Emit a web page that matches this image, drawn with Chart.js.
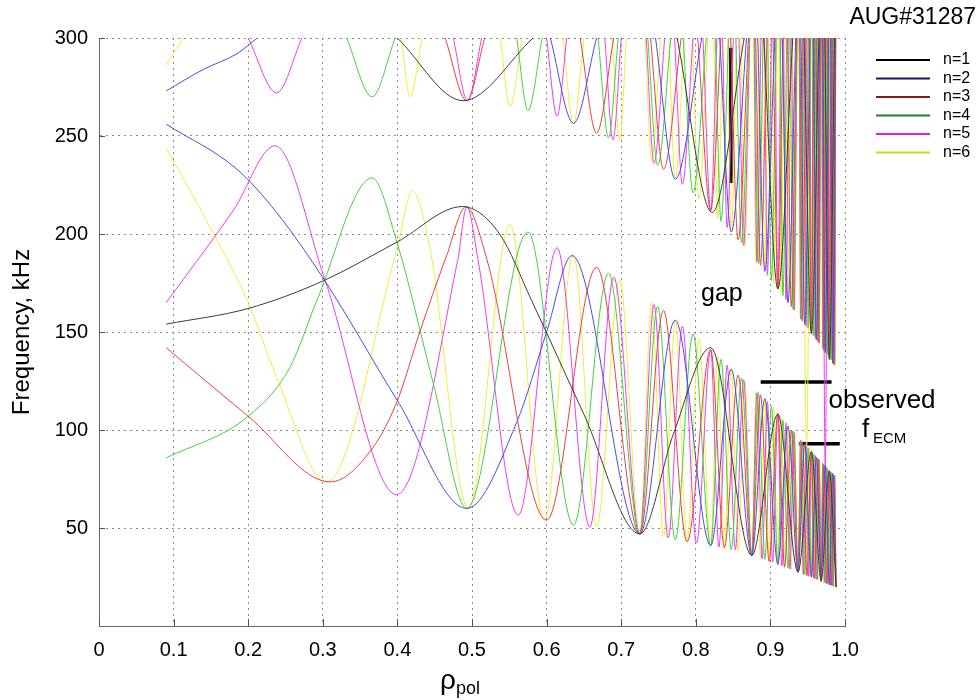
<!DOCTYPE html>
<html>
<head>
<meta charset="utf-8">
<title>AUG#31287 continuum</title>
<script src="https://cdn.jsdelivr.net/npm/chart.js@4.4.1/dist/chart.umd.min.js"></script>
<style>
  html, body { margin: 0; padding: 0; background: #fff; }
  canvas { display: block; }
</style>
</head>
<body>
<canvas id="continuumChart" width="978" height="700"></canvas>
<script>
// toroidal mode numbers shown in the legend
const modeLabels = ['n=1', 'n=2', 'n=3', 'n=4', 'n=5', 'n=6'];
const xTicks = [0, 0.1, 0.2, 0.3, 0.4, 0.5, 0.6, 0.7, 0.8, 0.9, 1.0];
const yTicks = [50, 100, 150, 200, 250, 300];

// lower continuum branches [rho_pol, kHz]
const n1Low = [[0.09,154],[0.2,162],[0.3,176],[0.4,196],[0.487,214],[0.537,200],[0.58,166],[0.65,108],[0.725,47],[0.77,98],[0.82,142],[0.875,36],[0.91,108],[0.937,27.5],[0.955,89],[0.968,23],[0.979,79],[0.988,20]];
const n2Low = [[0.09,256],[0.185,233],[0.238,211],[0.303,176],[0.4,115],[0.493,60],[0.56,104],[0.6,150],[0.634,189],[0.725,47],[0.7725,156],[0.82,41],[0.8475,131],[0.875,36],[0.8925,116],[0.91,31.5],[0.9235,102],[0.937,27.5],[0.946,93],[0.955,25],[0.9615,86],[0.968,23],[0.9735,82],[0.979,21],[0.9835,78],[0.988,20]];
const n3Low = [[0.09,142],[0.2,107],[0.31,73.5],[0.367,91],[0.4,115],[0.43,150],[0.466,189],[0.492,214],[0.52,187],[0.6,54],[0.667,183],[0.725,47],[0.7567,161],[0.7883,43],[0.82,141],[0.8383,40],[0.8567,128],[0.875,36],[0.8867,118],[0.8983,33],[0.91,108.5],[0.919,30],[0.928,100],[0.937,27.5],[0.943,94],[0.949,25.7],[0.955,89],[0.9593,24],[0.9637,85.5],[0.968,22.8],[0.9717,82],[0.9753,21.7],[0.979,79.4],[0.982,20.7],[0.985,77],[0.988,19.8]];
const n4Low = [[0.09,85.7],[0.2,107],[0.256,132],[0.292,166],[0.366,228.6],[0.4,195],[0.448,124],[0.493,60],[0.575,201],[0.636,51.5],[0.683,180],[0.725,47],[0.7488,163],[0.7725,44],[0.7963,149],[0.82,41],[0.8338,136],[0.8475,39],[0.8613,126.5],[0.875,36],[0.8838,119],[0.8925,34],[0.9013,112],[0.91,31.5],[0.9168,105],[0.9235,29.5],[0.9303,99.6],[0.937,27.5],[0.9415,94],[0.946,26],[0.9505,91],[0.955,24.8],[0.9583,87.7],[0.9615,23.8],[0.9648,85],[0.968,22.8],[0.9708,82.7],[0.9735,22],[0.9763,80.5],[0.979,21.2],[0.9813,78.5],[0.9835,20.5],[0.9858,76.7],[0.988,19.8]];
const n5Low = [[0.09,165],[0.18,212],[0.236,245],[0.303,176.5],[0.399,67],[0.481,187],[0.493,214],[0.508,187],[0.562,56.6],[0.614,193],[0.658,50.5],[0.69,178],[0.725,47],[0.744,164],[0.763,45],[0.782,153],[0.801,42.4],[0.82,141],[0.831,40.3],[0.842,133],[0.853,38.8],[0.864,125.6],[0.875,36],[0.882,119],[0.889,34.3],[0.896,114.4],[0.903,32.6],[0.91,108.5],[0.9154,30.7],[0.9208,103.6],[0.9262,29.1],[0.9316,98.8],[0.937,27.5],[0.9406,94.7],[0.9442,26.4],[0.9478,91.9],[0.9514,25.3],[0.955,89],[0.9576,24.6],[0.9602,86.9],[0.9628,23.6],[0.9654,84.8],[0.968,22.8],[0.9702,82.9],[0.9724,22.1],[0.9746,81.2],[0.9768,21.5],[0.979,79.4],[0.9808,20.9],[0.9826,78],[0.9844,20.3],[0.9862,76.5],[0.988,19.8]];
const n6Low = [[0.09,244],[0.153,200.5],[0.2,165],[0.238,127],[0.305,73.5],[0.399,192],[0.42,222],[0.444,192],[0.495,60],[0.551,205],[0.597,54],[0.636,190],[0.667,50.5],[0.698,176.5],[0.725,47],[0.7408,165],[0.7567,45.5],[0.7725,156],[0.7883,43.2],[0.8042,146.5],[0.82,41],[0.8292,137.8],[0.8383,39.8],[0.8475,131.4],[0.8567,38.3],[0.8658,125],[0.875,36],[0.8808,119.7],[0.8867,34.6],[0.8925,115.6],[0.8983,33.2],[0.9042,111],[0.91,31.5],[0.9145,106.5],[0.919,30.2],[0.9235,102.4],[0.928,28.8],[0.9325,98.4],[0.937,27.5],[0.94,95],[0.943,26.6],[0.946,92.6],[0.949,25.7],[0.952,90.2],[0.955,24.8],[0.9572,88.1],[0.9593,24.1],[0.9615,86.4],[0.9637,23.5],[0.9658,84.7],[0.968,22.8],[0.9698,83.2],[0.9717,22.3],[0.9735,81.6],[0.9753,21.7],[0.9772,80.1],[0.979,21.2],[0.9805,78.8],[0.982,20.7],[0.9835,77.6],[0.985,20.3],[0.9865,76.4],[0.988,19.8]];

// upper continuum branches, one list per dip (leaves the frame at 300 kHz)
const n1Up = [
  [[0.40,300],[0.488,268],[0.582,300]],
  [[0.775,300],[0.822,211],[0.865,300]],
  [[0.891,300],[0.91,172],[0.93,300]],
  [[0.945,300],[0.955,149],[0.965,300]],
  [[0.973,300],[0.979,136],[0.986,300]]
];
const n2Up = [
  [[0.09,273],[0.14,284],[0.185,292],[0.212,300]],
  [[0.605,300],[0.636,256.5],[0.667,300]],
  [[0.746,300],[0.7725,228],[0.808,300]],
  [[0.832,300],[0.8475,201],[0.868,300]],
  [[0.883,300],[0.8925,181],[0.906,300]],
  [[0.916,300],[0.9235,165],[0.934,300]],
  [[0.941,300],[0.946,154],[0.953,300]],
  [[0.958,300],[0.9615,146],[0.966,300]],
  [[0.9705,300],[0.9735,139.5],[0.978,300]],
  [[0.981,300],[0.9835,134],[0.987,300]]
];
const n3Up = [
  [[0.464,300],[0.493,268],[0.517,300]],
  [[0.645,300],[0.667,251.5],[0.69,300]],
  [[0.7393,300],[0.7567,233],[0.7804,300]],
  [[0.8026,300],[0.82,212],[0.8337,300]],
  [[0.8466,300],[0.8567,197],[0.8705,300]],
  [[0.8803,300],[0.8867,184],[0.8954,300]],
  [[0.9036,300],[0.91,172],[0.9168,300]],
  [[0.923,300],[0.928,163],[0.9348,300]],
  [[0.9397,300],[0.943,155.5],[0.9475,300]],
  [[0.9517,300],[0.955,149.5],[0.9582,300]],
  [[0.9613,300],[0.9637,145],[0.967,300]],
  [[0.9697,300],[0.9717,140.5],[0.9744,300]],
  [[0.977,300],[0.979,136.5],[0.9813,300]],
  [[0.9834,300],[0.985,133.5],[0.9875,300]]
];
const n4Up = [
  [[0.332,300],[0.366,270],[0.397,300]],
  [[0.56,300],[0.575,263],[0.594,300]],
  [[0.669,300],[0.683,249],[0.696,300]],
  [[0.7357,300],[0.7488,235],[0.7666,300]],
  [[0.7832,300],[0.7963,221],[0.8141,300]],
  [[0.8262,300],[0.8338,206.5],[0.8441,300]],
  [[0.8537,300],[0.8613,195.4],[0.8716,300]],
  [[0.879,300],[0.8838,185],[0.8903,300]],
  [[0.8965,300],[0.9013,176.4],[0.9078,300]],
  [[0.9131,300],[0.9168,168.6],[0.9219,300]],
  [[0.9266,300],[0.9303,161.8],[0.9353,300]],
  [[0.939,300],[0.9415,156.3],[0.9449,300]],
  [[0.948,300],[0.9505,152],[0.9539,300]],
  [[0.9565,300],[0.9583,148],[0.9607,300]],
  [[0.963,300],[0.9648,144.8],[0.9672,300]],
  [[0.9693,300],[0.9708,141.6],[0.9728,300]],
  [[0.9748,300],[0.9763,138.6],[0.9783,300]],
  [[0.98,300],[0.9813,135.7],[0.983,300]],
  [[0.9846,300],[0.9858,133.2],[0.9875,300]]
];
const n5Up = [
  [[0.2,300],[0.238,272],[0.272,300]],
  [[0.475,300],[0.494,268],[0.513,300]],
  [[0.6,300],[0.614,260],[0.627,300]],
  [[0.678,300],[0.689,248],[0.70,300]],
  [[0.7336,300],[0.744,236],[0.7583,300]],
  [[0.7716,300],[0.782,225.4],[0.7963,300]],
  [[0.8096,300],[0.82,212],[0.8283,300]],
  [[0.836,300],[0.842,203.3],[0.8503,300]],
  [[0.858,300],[0.864,194.2],[0.8723,300]],
  [[0.8782,300],[0.882,186],[0.8873,300]],
  [[0.8922,300],[0.896,179],[0.9013,300]],
  [[0.9063,300],[0.91,172],[0.914,300]],
  [[0.9178,300],[0.9208,166.6],[0.9249,300]],
  [[0.9286,300],[0.9316,161.2],[0.9357,300]],
  [[0.9386,300],[0.9406,156.7],[0.9433,300]],
  [[0.9458,300],[0.9478,153],[0.9505,300]],
  [[0.953,300],[0.955,149.5],[0.957,300]],
  [[0.9588,300],[0.9602,147],[0.9622,300]],
  [[0.964,300],[0.9654,144.3],[0.9674,300]],
  [[0.969,300],[0.9702,142],[0.9719,300]],
  [[0.9734,300],[0.9746,139.6],[0.9763,300]],
  [[0.9778,300],[0.979,137.5],[0.9804,300]],
  [[0.9816,300],[0.9826,135.6],[0.984,300]],
  [[0.9852,300],[0.9862,133.7],[0.9876,300]]
];
const n6Up = [
  [[0.09,286],[0.113,300]],
  [[0.405,300],[0.417,270],[0.433,300]],
  [[0.538,300],[0.551,265],[0.567,300]],
  [[0.622,300],[0.636,256],[0.65,300]],
  [[0.688,300],[0.698,248],[0.707,300]],
  [[0.7321,300],[0.7408,237],[0.7527,300]],
  [[0.7638,300],[0.7725,228],[0.7844,300]],
  [[0.7955,300],[0.8042,218],[0.8161,300]],
  [[0.8241,300],[0.8292,208],[0.8361,300]],
  [[0.8424,300],[0.8475,201],[0.8544,300]],
  [[0.8608,300],[0.8658,193.5],[0.8727,300]],
  [[0.8776,300],[0.8808,185],[0.8852,300]],
  [[0.8893,300],[0.8925,181],[0.8969,300]],
  [[0.901,300],[0.9042,175],[0.9086,300]],
  [[0.912,300],[0.9145,170],[0.9179,300]],
  [[0.921,300],[0.9235,165],[0.9269,300]],
  [[0.93,300],[0.9325,161],[0.9359,300]],
  [[0.9384,300],[0.94,157],[0.9423,300]],
  [[0.9444,300],[0.946,154],[0.9483,300]],
  [[0.9504,300],[0.952,151.4],[0.9543,300]],
  [[0.956,300],[0.9572,148],[0.9589,300]],
  [[0.9603,300],[0.9615,146],[0.9632,300]],
  [[0.9646,300],[0.9658,144],[0.9675,300]],
  [[0.9688,300],[0.9698,141.3],[0.9712,300]],
  [[0.9725,300],[0.9735,139.4],[0.9749,300]],
  [[0.9762,300],[0.9772,137.6],[0.9786,300]],
  [[0.9797,300],[0.9805,136],[0.9816,300]],
  [[0.9827,300],[0.9835,134.3],[0.9846,300]],
  [[0.9857,300],[0.9865,132.8],[0.9876,300]]
];

// deep dips that cross the gap
const n6Spike = [[0.943,300],[0.9485,91],[0.954,300]];
const n5Spike = [[0.970,300],[0.9735,80],[0.977,300]];

// black marks drawn on top of the continuum
const gapMarker = [[0.847,226],[0.847,295]];
const ecmUpper = [[0.887,124.5],[0.982,124.5]];
const ecmLower = [[0.938,93],[0.993,93]];

const lowBranches = [n1Low, n2Low, n3Low, n4Low, n5Low, n6Low];
const upBranches = [n1Up, n2Up, n3Up, n4Up, n5Up, n6Up];

const lineColors = ['#3c3c3c', '#4b4be6', '#e8413f', '#3fd23f', '#ee3cee', '#eeee3a'];
const legendColors = ['#000000', '#15156e', '#7d1e1e', '#2f7a2f', '#e01ee0', '#d6d61e'];
const FONT = '"Liberation Sans", Arial, Helvetica, sans-serif';

function pts(list) {
  return list.map(p => ({ x: p[0], y: p[1] }));
}

function segPts(segments) {
  const out = [];
  segments.forEach((seg, i) => {
    if (i > 0) out.push({ x: seg[0][0], y: null });
    seg.forEach(p => out.push({ x: p[0], y: p[1] }));
  });
  return out;
}

const datasets = [];
for (let i = 0; i < 6; i++) {
  datasets.push({ label: modeLabels[i], data: pts(lowBranches[i]), borderColor: lineColors[i] });
  datasets.push({ label: modeLabels[i], data: segPts(upBranches[i]), borderColor: lineColors[i] });
}
datasets.push({ label: 'n=6', data: pts(n6Spike), borderColor: lineColors[5] });
datasets.push({ label: 'n=5', data: pts(n5Spike), borderColor: lineColors[4] });
[gapMarker, ecmUpper, ecmLower].forEach(m => {
  datasets.push({ label: '', data: pts(m), borderColor: '#000', borderWidth: 3.5, tension: 0, cubicInterpolationMode: 'default' });
});

const overlay = {
  id: 'overlay',
  afterDraw(chart) {
    const { ctx, chartArea, scales: { x, y } } = chart;
    ctx.save();

    // short inward tick marks
    ctx.strokeStyle = '#555';
    ctx.lineWidth = 1;
    xTicks.forEach(v => {
      const px = Math.round(x.getPixelForValue(v)) + 0.5;
      ctx.beginPath();
      ctx.moveTo(px, chartArea.bottom);
      ctx.lineTo(px, chartArea.bottom - 7);
      ctx.stroke();
    });
    yTicks.forEach(v => {
      const py = Math.round(y.getPixelForValue(v)) + 0.5;
      ctx.beginPath();
      ctx.moveTo(chartArea.left, py);
      ctx.lineTo(chartArea.left + 6, py);
      ctx.stroke();
    });

    ctx.fillStyle = '#000';
    ctx.textAlign = 'left';
    ctx.textBaseline = 'alphabetic';

    ctx.font = '25px ' + FONT;
    ctx.fillText('gap', x.getPixelForValue(0.807), y.getPixelForValue(166));
    ctx.font = '26px ' + FONT;
    ctx.fillText('observed', x.getPixelForValue(0.978), y.getPixelForValue(111));
    ctx.fillText('f', 862, 437);
    ctx.font = '15px ' + FONT;
    ctx.fillText('ECM', 873, 443);

    ctx.font = '23px ' + FONT;
    ctx.textAlign = 'right';
    ctx.fillText('AUG#31287', 976, 24);

    // x axis title with subscript
    ctx.textAlign = 'left';
    ctx.font = '28px ' + FONT;
    ctx.fillText('ρ', 440, 689);
    ctx.font = '18px ' + FONT;
    ctx.fillText('pol', 456, 694);

    // legend
    ctx.font = '16px ' + FONT;
    ctx.textBaseline = 'middle';
    modeLabels.forEach((lab, i) => {
      const ly = 60 + i * 18.5;
      ctx.strokeStyle = legendColors[i];
      ctx.lineWidth = 2;
      ctx.beginPath();
      ctx.moveTo(876, ly);
      ctx.lineTo(930, ly);
      ctx.stroke();
      ctx.fillStyle = '#000';
      ctx.fillText(lab, 943, ly);
    });
    ctx.restore();
  }
};

new Chart(document.getElementById('continuumChart'), {
  type: 'line',
  data: { datasets },
  options: {
    responsive: false,
    animation: false,
    devicePixelRatio: 1,
    layout: { padding: { top: 38, right: 133, left: 0, bottom: 0 } },
    elements: {
      point: { radius: 0 },
      line: { borderWidth: 1, cubicInterpolationMode: 'monotone', fill: false }
    },
    plugins: {
      legend: { display: false },
      tooltip: { enabled: false }
    },
    scales: {
      x: {
        type: 'linear',
        min: 0,
        max: 1,
        afterFit: s => { s.height = 74; },
        afterBuildTicks: s => { s.ticks = xTicks.map(v => ({ value: v })); },
        ticks: {
          color: '#000',
          padding: 12,
          font: { family: FONT, size: 20 },
          callback: v => (v === 0 ? '0' : v.toFixed(1))
        },
        grid: { color: '#8a8a8a', drawTicks: false },
        border: { color: '#666', dash: [2, 4] }
      },
      y: {
        min: 0,
        max: 300,
        afterFit: s => { s.width = 99; },
        afterBuildTicks: s => { s.ticks = [0].concat(yTicks).map(v => ({ value: v })); },
        ticks: {
          color: '#000',
          padding: 11,
          font: { family: FONT, size: 20 },
          callback: v => (v === 0 ? '' : v)
        },
        grid: { color: '#8a8a8a', drawTicks: false },
        border: { color: '#666', dash: [2, 4] },
        title: {
          display: true,
          text: 'Frequency, kHz',
          color: '#000',
          font: { family: FONT, size: 24 },
          padding: { top: 8, bottom: 0 }
        }
      }
    }
  },
  plugins: [overlay]
});
</script>
</body>
</html>
